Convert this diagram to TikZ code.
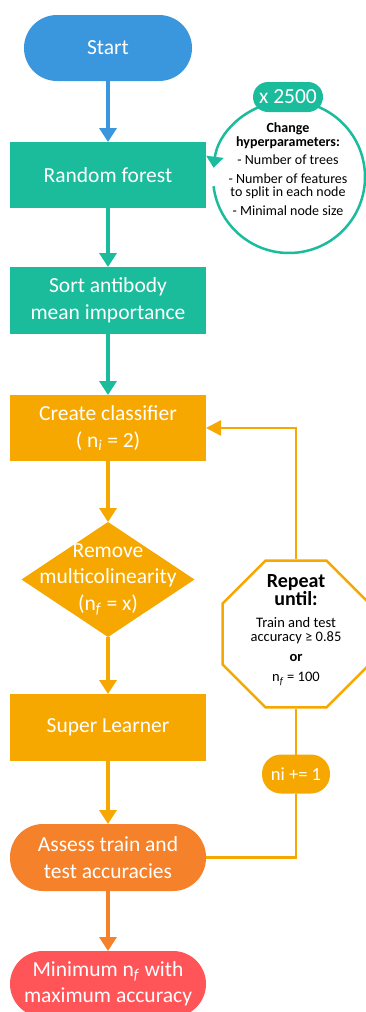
\documentclass[tikz,border=0pt]{standalone}
\usepackage{fontspec}
\setmainfont{Carlito}
\usepackage{tikz}
\usetikzlibrary{arrows.meta,positioning,shapes.geometric}
\definecolor{startblue}{HTML}{3A96DD}
\definecolor{rfteal}{HTML}{1ABC9C}
\definecolor{amber}{HTML}{F7A800}
\definecolor{assessorange}{HTML}{F5822A}
\definecolor{endred}{HTML}{FF5558}

\begin{document}
\begin{tikzpicture}[
   x=1pt, y=1pt,
   font=\fontsize{21.5}{26.5}\selectfont,
   box/.style={rectangle, fill=#1, text=white, align=center, inner sep=0pt, outer sep=0pt,
               minimum width=196pt, minimum height=66pt},
   pill/.style={box=#1, rounded corners=33pt},
   fwd/.style={-{Triangle[width=17pt,length=14pt]}, line width=3.5pt, color=#1},
   back/.style={line width=2.5pt, color=amber},
   cyc/.style={-{Triangle[width=17pt,length=11pt]}, line width=2.5pt, color=rfteal},
   note/.style={align=center, text=black, font=\fontsize{14}{13.5}\selectfont},
]
  \useasboundingbox (0,0) rectangle (365,-1012);

  % main column
  \node[pill=startblue, minimum width=168pt] (start) at (108,-48) {Start};
  \node[box=rfteal, below=61pt of start] (rf) {Random forest};
  \node[box=rfteal, below=59pt of rf, minimum height=67pt] (sort) {Sort antibody\\mean importance};
  \node[box=amber, below=61pt of sort] (cc) {Create classifier\\( n\textsubscript{\textit{i}} = 2)};
  \node[diamond, fill=amber, inner sep=0pt, outer sep=0pt, minimum width=173pt,
        minimum height=115pt, below=61pt of cc] (rm) {};
  \node[text=white, align=center] (rmtxt) at (rm) {Remove\\multicolinearity\\(n\textsubscript{\textit{f}} = x)};
  \node[box=amber, below=57pt of rm, minimum height=67pt] (sl) {Super Learner};
  \node[pill=assessorange, below=63pt of sl, minimum height=67pt] (as) {Assess train and\\test accuracies};
  \node[pill=endred, below=60pt of as] (min) {Minimum n\textsubscript{\textit{f}} with\\maximum accuracy};

  \draw[fwd=startblue] (start) -- (rf);
  \draw[fwd=rfteal] (rf) -- (sort);
  \draw[fwd=rfteal] (sort) -- (cc);
  \draw[fwd=amber] (cc) -- (rm);
  \draw[fwd=amber] (rm) -- (sl);
  \draw[fwd=amber] (sl) -- (as);
  \draw[fwd=assessorange] (as) -- (min);

  % hyperparameter cycle
  \node[circle, minimum size=152pt, inner sep=0pt, outer sep=0pt] (hyp) at (289,-177) {};
  \draw[cyc] (hyp.187) arc[start angle=187, end angle=533, radius=76];
  \node[box=rfteal, rounded corners=15pt, minimum width=70pt, minimum height=30pt] (reps) at (288,-97) {x 2500};
  \node[note] (hyptxt) at (288,-169) {\textbf{Change}\\\textbf{hyperparameters:}\\[5pt]- Number of trees\\[5pt]
     - Number of features\\to split in each node\\[5pt]- Minimal node size};

  % stopping rule
  \node[regular polygon, regular polygon sides=8, minimum size=159pt, inner sep=0pt,
        draw=amber, line width=2.5pt] (rep) at (296,-634) {};
  \node[note, font=\fontsize{14.5}{14}\selectfont] (reptxt) at (296,-630)
     {{\fontsize{20}{14}\selectfont\bfseries Repeat}\\{\fontsize{20}{14}\selectfont\bfseries until:}\\[8pt]
      Train and test\\accuracy ≥ 0.85\\[6pt]\textbf{or}\\[6pt]n\textsubscript{\textit{f}} = 100};
  \node[box=amber, rounded corners=19pt, minimum width=68pt, minimum height=39pt,
        font=\fontsize{18.5}{20}\selectfont] (ni) at (296,-774) {ni += 1};

  \draw[back] (as.east) -| (ni.south);
  \draw[back] (ni.north) -- (rep.south);
  \draw[back, -{Triangle[width=15pt,length=15pt]}] (rep.north) |- (cc.east);
\end{tikzpicture}
\end{document}
